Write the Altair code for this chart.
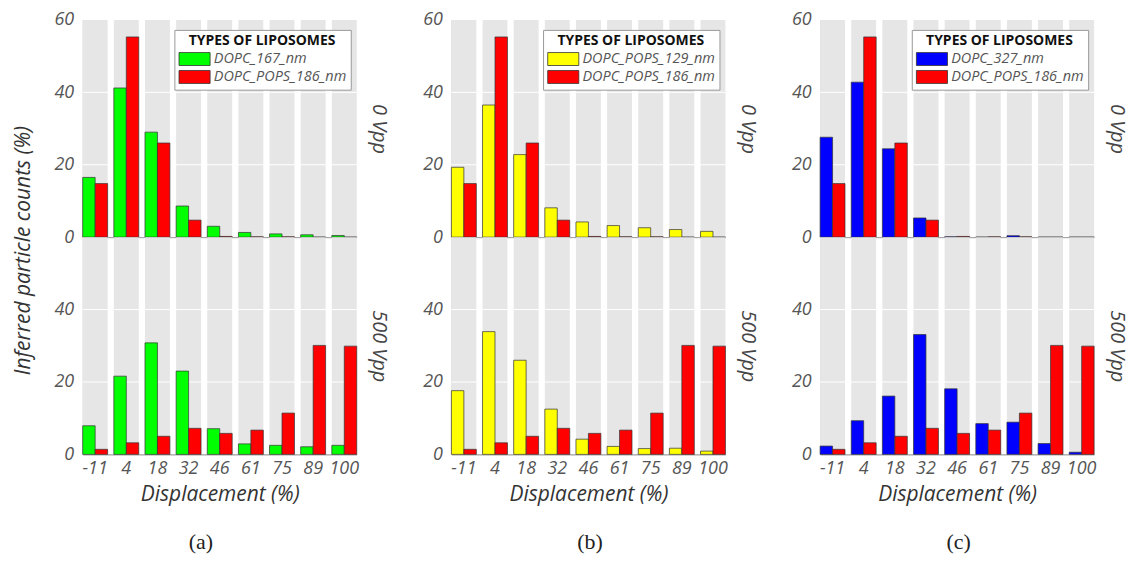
import altair as alt
import pandas as pd

categories = ["-11", "4", "18", "32", "46", "61", "75", "89", "100"]

ref_name = "DOPC_POPS_186_nm"
red_0 = [14.8, 55.3, 26.0, 4.7, 0.2, 0.1, 0.1, 0.0, 0.0]
red_500 = [1.4, 3.2, 5.0, 7.2, 5.8, 6.7, 11.4, 30.1, 29.9]

green_name = "DOPC_167_nm"
green_0 = [16.5, 41.2, 29.0, 8.6, 3.0, 1.3, 0.9, 0.65, 0.45]
green_500 = [7.9, 21.6, 30.8, 23.0, 7.1, 2.9, 2.5, 2.1, 2.5]

yellow_name = "DOPC_POPS_129_nm"
yellow_0 = [19.3, 36.5, 22.8, 8.1, 4.2, 3.2, 2.6, 2.1, 1.6]
yellow_500 = [17.6, 33.9, 26.0, 12.5, 4.2, 2.2, 1.6, 1.7, 0.9]

blue_name = "DOPC_327_nm"
blue_0 = [27.6, 42.8, 24.4, 5.3, 0.1, 0.0, 0.4, 0.0, 0.0]
blue_500 = [2.3, 9.3, 16.1, 33.1, 18.1, 8.5, 8.9, 3.0, 0.6]

panel_labels = ["(a)", "(b)", "(c)"]
row_labels = ["0 Vpp", "500 Vpp"]
y_ticks_top = [0, 20, 40, 60]
y_ticks_bottom = [0, 20, 40]
grid_values = [20, 40]

FONT = "Open Sans"
W, H = 275, 218
YMAX = 60


def subplot(names, colors, v1, v2, row_label, bottom, ytitle, show_legend):
    df = pd.DataFrame({
        "cat": categories * 2,
        "series": [names[0]] * len(categories) + [names[1]] * len(categories),
        "value": v1 + v2,
    })
    bg = pd.DataFrame({"cat": categories, "top": [YMAX] * len(categories)})
    grid = pd.DataFrame({"g": grid_values})

    yscale = alt.Scale(domain=[0, YMAX], nice=False, zero=True)
    xscale = alt.Scale(domain=categories, paddingInner=0.2, paddingOuter=0)

    if bottom:
        xaxis = alt.Axis(title="Displacement (%)", labelAngle=0, ticks=False,
                         domainColor="#888", domainWidth=1,
                         labelFont=FONT, labelFontStyle="italic", labelFontSize=18,
                         labelColor="#555", labelPadding=5,
                         titleFont=FONT, titleFontStyle="italic", titleFontSize=21,
                         titleFontWeight="normal", titleColor="#333", titlePadding=6)
    else:
        xaxis = alt.Axis(title=None, labels=False, ticks=False,
                         domainColor="#999", domainWidth=1)
    x = alt.X("cat:N", sort=categories, scale=xscale, axis=xaxis)

    yargs = dict(values=y_ticks_bottom if bottom else y_ticks_top,
                 ticks=False, grid=False, domainColor="#ccc",
                 labelFont=FONT, labelFontStyle="italic", labelFontSize=18,
                 labelColor="#555", labelPadding=9)
    if ytitle:
        yargs.update(title=ytitle, titleFont=FONT, titleFontStyle="italic",
                     titleFontSize=21, titleFontWeight="normal", titleColor="#333",
                     titleAngle=270, titleX=-59, titleY=231,
                     titleAlign="center", titleBaseline="middle")
    else:
        yargs.update(title=None)
    yaxis = alt.Axis(**yargs)

    right_axis = alt.Axis(orient="right", title=row_label, labels=False, ticks=False,
                          domain=False, grid=False, titleFont=FONT,
                          titleFontStyle="italic", titleFontSize=20,
                          titleFontWeight="normal", titleColor="#444",
                          titleAngle=90, titlePadding=12)

    bg_layer = alt.Chart(bg).mark_bar(color="#e6e6e6").encode(
        x=x, y=alt.Y("top:Q", scale=yscale, axis=yaxis))
    grid_layer = alt.Chart(grid).mark_rule(color="white", strokeWidth=1).encode(
        y=alt.Y("g:Q", scale=yscale, axis=right_axis))

    if show_legend:
        legend = alt.Legend(
            title="TYPES OF LIPOSOMES", orient="none", legendX=92, legendY=10,
            titleFont=FONT, titleFontSize=14, titleFontWeight="bold",
            titleColor="#111", titleAnchor="middle", titlePadding=4,
            labelFont=FONT, labelFontStyle="italic", labelFontSize=14.5,
            labelColor="#555", labelOffset=12, labelLimit=300,
            symbolType="M-2.4,-1L2.4,-1L2.4,1L-2.4,1Z",
            symbolSize=169, symbolOffset=9,
            symbolStrokeColor="#333", symbolStrokeWidth=0.8,
            symbolOpacity=1, rowPadding=1,
            fillColor="white", strokeColor="#999", padding=4)
    else:
        legend = None

    bars = alt.Chart(df).mark_bar(stroke="#333", strokeWidth=0.7).encode(
        x=x,
        xOffset=alt.XOffset("series:N", sort=names,
                            scale=alt.Scale(domain=names, paddingInner=0, paddingOuter=0)),
        y=alt.Y("value:Q", scale=yscale, axis=None),
        color=alt.Color("series:N", scale=alt.Scale(domain=names, range=colors),
                        legend=legend),
    )
    return alt.layer(bg_layer, grid_layer, bars).resolve_axis(y="independent").properties(
        width=W, height=H)


def column(names, colors, s1_0, s1_500, s2_0, s2_500, label, first):
    top = subplot(names, colors, s1_0, s2_0, row_labels[0], False,
                  "Inferred particle counts (%)" if first else None, True)
    bot = subplot(names, colors, s1_500, s2_500, row_labels[1], True, None, False)
    return alt.vconcat(top, bot, spacing=0, bounds="flush").properties(
        title=alt.TitleParams(label, orient="bottom", font="Liberation Serif",
                              fontSize=22, fontWeight="normal", color="#222",
                              offset=28, anchor="middle"))


colA = column([green_name, ref_name], ["#00ff00", "#ff0000"],
              green_0, green_500, red_0, red_500, panel_labels[0], True)
colB = column([yellow_name, ref_name], ["#ffff00", "#ff0000"],
              yellow_0, yellow_500, red_0, red_500, panel_labels[1], False)
colC = column([blue_name, ref_name], ["#0000ff", "#ff0000"],
              blue_0, blue_500, red_0, red_500, panel_labels[2], False)

chart = alt.hconcat(colA, colB, colC, spacing=34).resolve_scale(
    color="independent", xOffset="independent").configure_view(strokeWidth=0).properties(
    padding={"left": 13, "top": 10, "right": 5, "bottom": 5},
    background="white")

chart.save("out.html", embed_options={"renderer": "svg", "actions": False})
